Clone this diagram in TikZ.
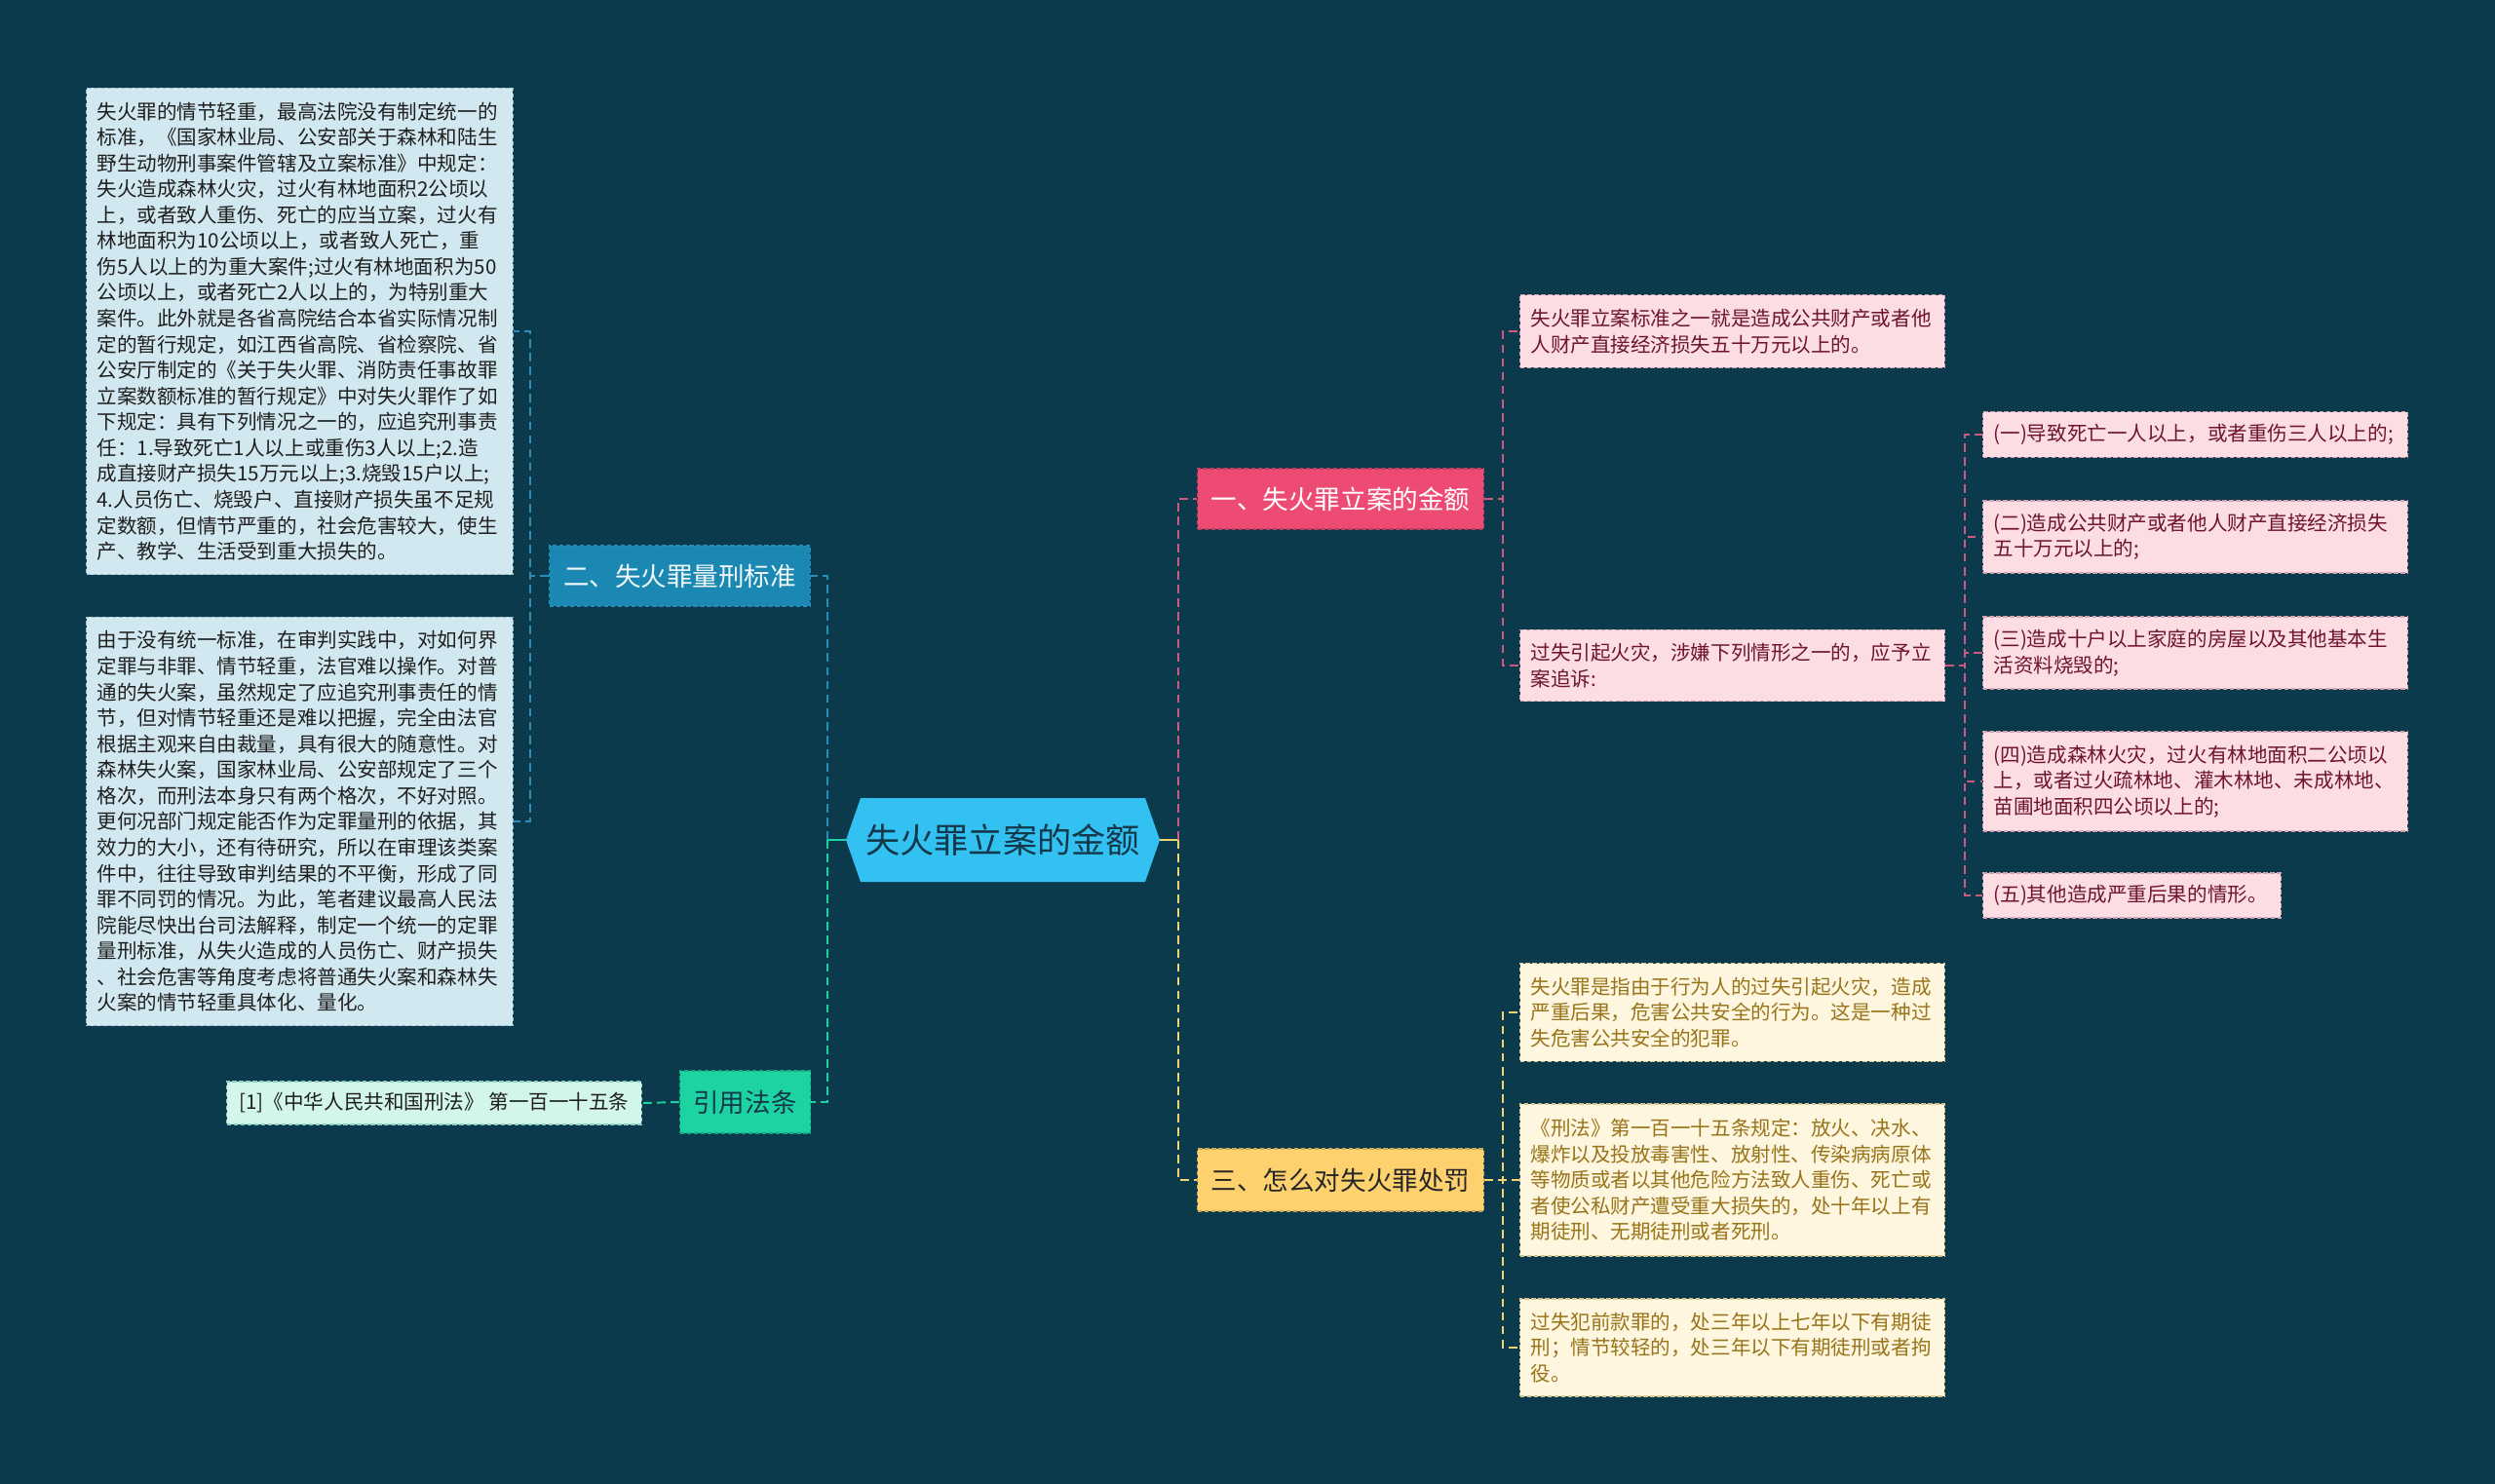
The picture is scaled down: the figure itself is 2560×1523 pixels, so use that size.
\documentclass[tikz,border=0pt]{standalone}
\usepackage{fontspec}
\setmainfont{Noto Sans CJK SC}
\usepackage{tikz}
\usetikzlibrary{positioning}
\definecolor{bgdark}{HTML}{0B3A4D}
\definecolor{rootfill}{HTML}{33C1F2}
\definecolor{rootink}{HTML}{12384A}
\definecolor{bluemain}{HTML}{1A88B2}
\definecolor{bluelink}{HTML}{2A8DB8}
\definecolor{bluepale}{HTML}{D2E8F0}
\definecolor{blueedge}{HTML}{9DBFCC}
\definecolor{pinkmain}{HTML}{EE4B74}
\definecolor{pinklink}{HTML}{CF5A7F}
\definecolor{pinkpale}{HTML}{FCDDE4}
\definecolor{pinkedge}{HTML}{D8A3B1}
\definecolor{pinkink}{HTML}{6E1430}
\definecolor{goldmain}{HTML}{FDD26E}
\definecolor{goldlink}{HTML}{F2D374}
\definecolor{goldpale}{HTML}{FEF6DE}
\definecolor{goldedge}{HTML}{D7C690}
\definecolor{goldink}{HTML}{98741A}
\definecolor{mintmain}{HTML}{1ED3A2}
\definecolor{mintpale}{HTML}{D3F6EC}
\definecolor{mintedge}{HTML}{8FCFBE}
\newcommand{\fsmall}{\fontsize{11.7pt}{15.12pt}\selectfont}
\newcommand{\fmid}{\fontsize{15.1pt}{18pt}\selectfont}
\newcommand{\fbig}{\fontsize{20pt}{24pt}\selectfont}

\begin{document}
\begin{tikzpicture}[
    x=0.02cm, y=-0.02cm,
    link/.style={line width=1.1pt, dash pattern=on 5pt off 3pt},
    edge/.style={draw, line width=0.6pt, dash pattern=on 2.6pt off 1.4pt},
    rootnode/.style={minimum width=6.44cm, minimum height=1.72cm, inner sep=0pt,
                     font=\fbig, text=rootink},
    branch/.style={edge, anchor=west, minimum width=5.88cm, minimum height=1.24cm,
                   inner sep=0pt, font=\fmid},
    leaf/.style={edge, anchor=west, align=left, inner xsep=0.22cm, inner ysep=0pt,
                 font=\fsmall, text width=8.28cm},
    leafblue/.style={leaf, fill=bluepale, draw=blueedge, text=black!88, text width=8.32cm},
    leafpink/.style={leaf, fill=pinkpale, draw=pinkedge, text=pinkink},
    leafgold/.style={leaf, fill=goldpale, draw=goldedge, text=goldink},
]

% background and frame
\fill[bgdark] (0,0) rectangle (2560,1523);

% central topic
\fill[rootfill] (868,862) -- (883,819) -- (1175,819) -- (1190,862)
    -- (1175,905) -- (883,905) -- cycle;
\node[rootnode] (root) at (1029,862) {失火罪立案的金额};
\coordinate (lj) at (849,862);
\coordinate (rj) at (1209,862);

% left side
\node[branch, fill=bluemain, draw=bluelink, text=white!94!bluemain,
      minimum width=5.36cm] (n2) at (563,591) {二、失火罪量刑标准};
\node[branch, fill=mintmain, draw=mintmain!80!black, text=rootink,
      minimum width=2.68cm, minimum height=1.28cm] (cite) at (697,1131) {引用法条};

\node[leafblue, minimum height=10cm] (lt) at (88,340) {失火罪的情节轻重，最高法院没有制定统一的\\标准，《国家林业局、公安部关于森林和陆生\\野生动物刑事案件管辖及立案标准》中规定：\\失火造成森林火灾，过火有林地面积2公顷以\\上，或者致人重伤、死亡的应当立案，过火有\\林地面积为10公顷以上，或者致人死亡，重\\伤5人以上的为重大案件;过火有林地面积为50\\公顷以上，或者死亡2人以上的，为特别重大\\案件。此外就是各省高院结合本省实际情况制\\定的暂行规定，如江西省高院、省检察院、省\\公安厅制定的《关于失火罪、消防责任事故罪\\立案数额标准的暂行规定》中对失火罪作了如\\下规定：具有下列情况之一的，应追究刑事责\\任：1.导致死亡1人以上或重伤3人以上;2.造\\成直接财产损失15万元以上;3.烧毁15户以上;\\4.人员伤亡、烧毁户、直接财产损失虽不足规\\定数额，但情节严重的，社会危害较大，使生\\产、教学、生活受到重大损失的。};
\node[leafblue, minimum height=8.4cm] (lb) at (88,843) {由于没有统一标准，在审判实践中，对如何界\\定罪与非罪、情节轻重，法官难以操作。对普\\通的失火案，虽然规定了应追究刑事责任的情\\节，但对情节轻重还是难以把握，完全由法官\\根据主观来自由裁量，具有很大的随意性。对\\森林失火案，国家林业局、公安部规定了三个\\格次，而刑法本身只有两个格次，不好对照。\\更何况部门规定能否作为定罪量刑的依据，其\\效力的大小，还有待研究，所以在审理该类案\\件中，往往导致审判结果的不平衡，形成了同\\罪不同罚的情况。为此，笔者建议最高人民法\\院能尽快出台司法解释，制定一个统一的定罪\\量刑标准，从失火造成的人员伤亡、财产损失\\、社会危害等角度考虑将普通失火案和森林失\\火案的情节轻重具体化、量化。};
\node[edge, anchor=west, fill=mintpale, draw=mintedge, text=black!88, font=\fsmall,
      minimum width=8.52cm, minimum height=0.88cm, inner sep=0pt]
      (ref) at (232,1132) {[1]《中华人民共和国刑法》 第一百一十五条};

% right side
\node[branch, fill=pinkmain, draw=pinkmain!80!black, text=white] (n1) at (1228,512) {一、失火罪立案的金额};
\node[branch, fill=goldmain, draw=goldmain!80!black, text=black!85,
      minimum height=1.28cm] (n3) at (1228,1211) {三、怎么对失火罪处罚};

\node[leafpink, minimum height=1.5cm] (a1) at (1559,340) {失火罪立案标准之一就是造成公共财产或者他\\人财产直接经济损失五十万元以上的。};
\node[leafpink, minimum height=1.47cm] (a2) at (1559,683) {过失引起火灾，涉嫌下列情形之一的，应予立\\案追诉:};

\node[leafpink, minimum height=0.94cm] (b1) at (2034,446) {(一)导致死亡一人以上，或者重伤三人以上的;};
\node[leafpink, minimum height=1.48cm] (b2) at (2034,551) {(二)造成公共财产或者他人财产直接经济损失\\五十万元以上的;};
\node[leafpink, minimum height=1.48cm] (b3) at (2034,670) {(三)造成十户以上家庭的房屋以及其他基本生\\活资料烧毁的;};
\node[leafpink, minimum height=2.04cm] (b4) at (2034,802) {(四)造成森林火灾，过火有林地面积二公顷以\\上，或者过火疏林地、灌木林地、未成林地、\\苗圃地面积四公顷以上的;};
\node[leafpink, minimum height=0.92cm, text width=5.68cm] (b5) at (2034,919) {(五)其他造成严重后果的情形。};

\node[leafgold, minimum height=2.02cm] (c1) at (1559,1039) {失火罪是指由于行为人的过失引起火灾，造成\\严重后果，危害公共安全的行为。这是一种过\\失危害公共安全的犯罪。};
\node[leafgold, minimum height=3.12cm] (c2) at (1559,1211) {《刑法》第一百一十五条规定：放火、决水、\\爆炸以及投放毒害性、放射性、传染病病原体\\等物质或者以其他危险方法致人重伤、死亡或\\者使公私财产遭受重大损失的，处十年以上有\\期徒刑、无期徒刑或者死刑。};
\node[leafgold, minimum height=2cm] (c3) at (1559,1383) {过失犯前款罪的，处三年以上七年以下有期徒\\刑；情节较轻的，处三年以下有期徒刑或者拘\\役。};

% connectors from the centre
\draw[mintmain, line width=1.1pt] (root.west) -- (lj);
\draw[goldlink, line width=1.1pt] (root.east) -- (rj);
\draw[link, bluelink] (lj) |- (n2.east);
\draw[link, mintmain] (lj) |- (cite.east);
\draw[link, pinklink] (rj) |- (n1.west);
\draw[link, goldlink] (rj) |- (n3.west);

% second level
\draw[link, bluelink] (n2.west) -- ++(-19,0) |- (lt.east);
\draw[link, bluelink] (n2.west) -- ++(-19,0) |- (lb.east);
\draw[link, mintmain] (cite.west) -- (ref.east);
\draw[link, pinklink] (n1.east) -- ++(19,0) |- (a1.west);
\draw[link, pinklink] (n1.east) -- ++(19,0) |- (a2.west);
\foreach \k in {b1,b2,b3,b4,b5}
  \draw[link, pinklink] (a2.east) -- ++(20,0) |- (\k.west);
\foreach \k in {c1,c2,c3}
  \draw[link, goldlink] (n3.east) -- ++(19,0) |- (\k.west);

\end{tikzpicture}
\end{document}
